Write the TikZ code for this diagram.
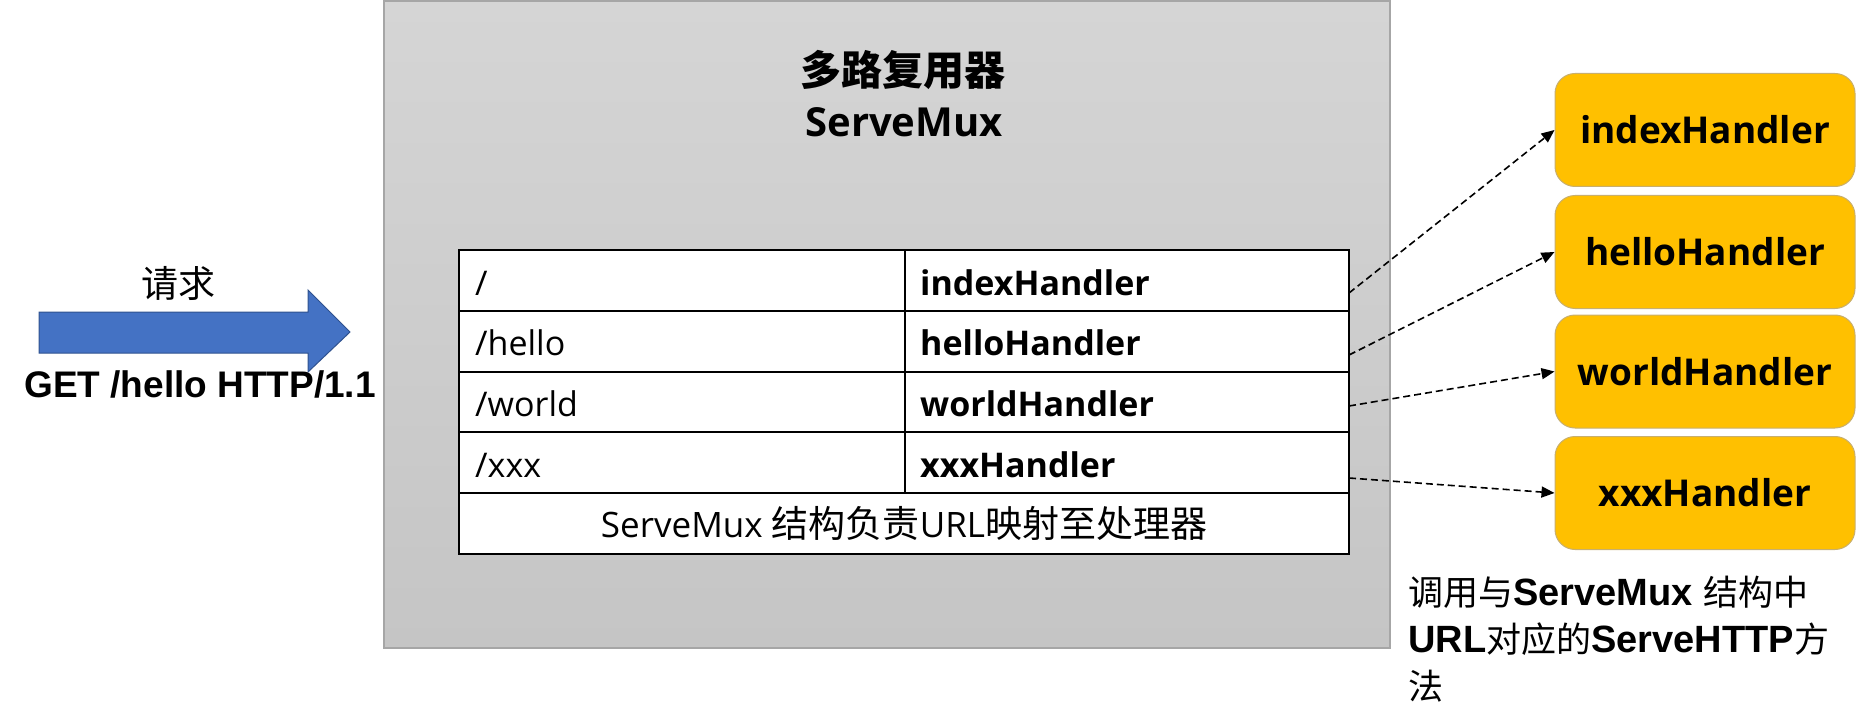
\documentclass[tikz,border=0pt]{standalone}
\usepackage{fontspec}
\setmainfont{Liberation Sans}
\newfontfamily\cjk{Noto Sans CJK SC}
\newfontfamily\osans{Open Sans}
\usetikzlibrary{arrows.meta}
\definecolor{muxtop}{RGB}{213,213,213}
\definecolor{muxbot}{RGB}{197,197,197}
\definecolor{muxedge}{RGB}{166,166,166}
\definecolor{reqblue}{RGB}{68,114,196}
\definecolor{reqedge}{RGB}{47,82,143}
\definecolor{hfill}{RGB}{255,192,0}
\definecolor{hedge}{RGB}{200,175,110}
\newcommand\zhtxt[2]{{\cjk\mdseries\fontsize{#1}{#1}\selectfont #2}}
\begin{document}
\begin{tikzpicture}[x=1pt,y=-1pt,
  muxbox/.style={draw=muxedge,line width=1.2pt,top color=muxtop,bottom color=muxbot,
    minimum width=1006pt,minimum height=647pt,inner sep=0pt},
  cellbox/.style={draw=black,fill=white,line width=2pt,inner sep=0pt,minimum height=60.8pt},
  keytxt/.style={anchor=base west,inner sep=0pt,font=\osans\fontsize{34}{34}\selectfont},
  valtxt/.style={anchor=base west,inner sep=0pt,font=\osans\bfseries\fontsize{34}{34}\selectfont},
  handler/.style={draw=hedge,line width=1pt,fill=hfill,rounded corners=20pt,
    minimum width=300pt,minimum height=113pt,inner sep=0pt,
    font=\osans\bfseries\fontsize{37}{37}\selectfont},
  callarrow/.style={draw=black,line width=1.6pt,dash pattern=on 7pt off 4pt,
    -{Triangle[length=13pt,width=11pt]}},
  notetxt/.style={anchor=base west,inner sep=0pt,font=\bfseries\fontsize{38}{38}\selectfont}
]
\useasboundingbox (0,0) rectangle (1860,727);

% gray multiplexer box
\node[muxbox] (mux) at (887,324.5) {};
\node[inner sep=0pt,font=\cjk\bfseries\fontsize{41}{41}\selectfont] (title) at (903,69.5) {多路复用器};
\node[anchor=base,inner sep=0pt,font=\osans\bfseries\fontsize{40}{40}\selectfont] (titlelat) at (904,137) {ServeMux};

% table cells
\node[cellbox,minimum width=446pt] (k1) at (682,280.4) {};
\node[cellbox,minimum width=444pt] (v1) at (1127,280.4) {};
\node[cellbox,minimum width=446pt] (k2) at (682,341.2) {};
\node[cellbox,minimum width=444pt] (v2) at (1127,341.2) {};
\node[cellbox,minimum width=446pt] (k3) at (682,402.0) {};
\node[cellbox,minimum width=444pt] (v3) at (1127,402.0) {};
\node[cellbox,minimum width=446pt] (k4) at (682,462.8) {};
\node[cellbox,minimum width=444pt] (v4) at (1127,462.8) {};
\node[cellbox,minimum width=890pt] (foot) at (904,523.6) {};

\node[keytxt] (kt1) at (475,295) {/};
\node[keytxt] (kt2) at (475,355.8) {/hello};
\node[keytxt] (kt3) at (475,416.6) {/world};
\node[keytxt] (kt4) at (475,477.4) {/xxx};
\node[valtxt] (vt1) at (920,295) {indexHandler};
\node[valtxt] (vt2) at (920,355.8) {helloHandler};
\node[valtxt] (vt3) at (920,416.6) {worldHandler};
\node[valtxt] (vt4) at (920,477.4) {xxxHandler};
\node[anchor=base,inner sep=0pt,font=\osans\fontsize{35}{35}\selectfont] (foottxt) at (904,537)
  {ServeMux \zhtxt{37}{结构负责}URL\zhtxt{37}{映射至处理器}};

% request arrow
\draw[fill=reqblue,draw=reqedge,line width=1pt]
  (39,312) -- (308,312) -- (308,290) -- (350,332) -- (308,372) -- (308,353) -- (39,353) -- cycle;
\node[inner sep=0pt,font=\cjk\fontsize{37}{37}\selectfont] (req) at (178,283) {请求};
\node[anchor=base,inner sep=0pt,font=\bfseries\fontsize{37}{37}\selectfont] (get) at (200,397) {GET /hello HTTP/1.1};

% handlers
\node[handler] (h1) at (1705,130) {indexHandler};
\node[handler] (h2) at (1705,252) {helloHandler};
\node[handler] (h3) at (1705,371.5) {worldHandler};
\node[handler] (h4) at (1705,493) {xxxHandler};

\coordinate (s1) at (1349,293);
\coordinate (s2) at (1349,355);
\coordinate (s3) at (1349,406);
\coordinate (s4) at (1349,478);
\draw[callarrow] (s1) -- (h1.west);
\draw[callarrow] (s2) -- (h2.west);
\draw[callarrow] (s3) -- (h3.west);
\draw[callarrow] (s4) -- (h4.west);

% note
\node[notetxt] (n1) at (1408,605) {\zhtxt{35}{调用与}ServeMux \zhtxt{35}{结构中}};
\node[notetxt] (n2) at (1408,652) {URL\zhtxt{35}{对应的}ServeHTTP\zhtxt{35}{方}};
\node[notetxt] (n3) at (1408,699) {\zhtxt{35}{法}};
\end{tikzpicture}
\end{document}
